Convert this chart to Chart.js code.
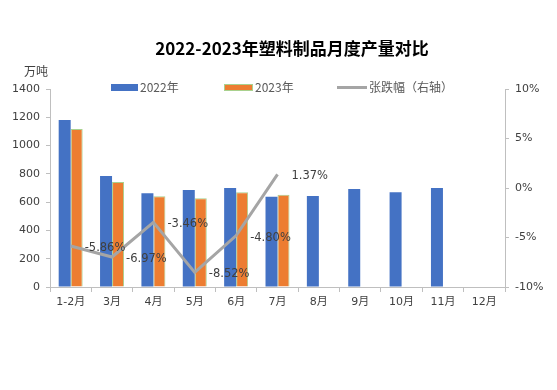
<!DOCTYPE html>
<html>
<head>
<meta charset="utf-8">
<script src="https://cdn.jsdelivr.net/npm/chart.js@4/dist/chart.umd.min.js"></script>
<style>
  body { margin: 0; background: #fff; }
  #wrap { width: 557px; height: 390px; }
</style>
</head>
<body>
<div id="wrap"><canvas id="c" width="557" height="390"></canvas></div>
<script>
// categories and series
const months = ['1-2月', '3月', '4月', '5月', '6月', '7月', '8月', '9月', '10月', '11月', '12月'];
const output2022 = [1181, 785, 662, 686, 700, 639, 643, 693, 670, 700, null];
const output2023 = [1117, 742, 642, 627, 670, 653, null, null, null, null, null];
const changePct = [-5.86, -6.97, -3.46, -8.52, -4.80, 1.37, null, null, null, null, null];

const FONT = '"DejaVu Sans", "Noto Sans CJK SC", sans-serif';
const TXT = '#404040';

// title, unit label, legend and line value labels
const decor = {
    id: 'decor',
    afterDatasetsDraw(chart) {
        const ctx = chart.ctx;
        ctx.save();
        ctx.fillStyle = '#000';
        ctx.font = 'bold 17px "Noto Sans CJK SC", sans-serif';
        ctx.textAlign = 'center';
        ctx.textBaseline = 'middle';
        ctx.fillText('2022-2023年塑料制品月度产量对比', 292, 49);

        ctx.font = '12px "Noto Sans CJK SC", sans-serif';
        ctx.fillStyle = TXT;
        ctx.fillText('万吨', 36, 71);

        // legend
        const ly = 87;
        ctx.textAlign = 'left';
        ctx.font = '12px "Noto Sans CJK SC", sans-serif';
        ctx.fillStyle = '#4472C4';
        ctx.fillRect(111, ly - 3, 27, 7);
        ctx.fillStyle = '#ED7D31';
        ctx.fillRect(224, ly - 3, 29, 7);
        ctx.strokeStyle = '#A9D18E';
        ctx.lineWidth = 1;
        ctx.strokeRect(224.5, ly - 2.5, 28, 6);
        ctx.strokeStyle = '#A5A5A5';
        ctx.lineWidth = 3;
        ctx.beginPath();
        ctx.moveTo(337, ly + 0.5);
        ctx.lineTo(367, ly + 0.5);
        ctx.stroke();
        ctx.fillStyle = '#595959';
        ctx.fillText('2022年', 140, ly);
        ctx.fillText('2023年', 255, ly);
        ctx.fillText('张跌幅（右轴）', 369, ly);

        // value labels on the line
        const meta = chart.getDatasetMeta(2);
        ctx.font = '11.5px ' + FONT;
        ctx.fillStyle = TXT;
        meta.data.forEach((pt, i) => {
            if (changePct[i] == null) return;
            ctx.fillText(changePct[i].toFixed(2) + '%', pt.x + 14, pt.y + 2);
        });
        ctx.restore();
    }
};

new Chart(document.getElementById('c'), {
    data: {
        labels: months,
        datasets: [
            {
                type: 'bar',
                label: '2022年',
                data: output2022,
                backgroundColor: '#4472C4',
                yAxisID: 'y',
                order: 2,
                categoryPercentage: 0.58,
                barPercentage: 1,
            },
            {
                type: 'bar',
                label: '2023年',
                data: output2023,
                backgroundColor: '#ED7D31',
                borderColor: '#A9D18E',
                borderWidth: 1,
                yAxisID: 'y',
                order: 2,
                categoryPercentage: 0.58,
                barPercentage: 1,
            },
            {
                type: 'line',
                label: '张跌幅（右轴）',
                data: changePct,
                borderColor: '#A5A5A5',
                borderWidth: 3,
                pointRadius: 0,
                tension: 0,
                yAxisID: 'y1',
                order: 1,
            },
        ],
    },
    options: {
        responsive: false,
        animation: false,
        layout: { padding: { top: 89, left: 0, right: 0, bottom: 78 } },
        plugins: { legend: { display: false }, tooltip: { enabled: false } },
        scales: {
            x: {
                offset: true,
                grid: { offset: true, drawOnChartArea: false, tickLength: 5, color: '#bfbfbf' },
                border: { color: '#bfbfbf' },
                ticks: { color: TXT, font: { family: FONT, size: 11 }, padding: 4, maxRotation: 0 },
                afterFit(axis) { axis.height = 25; },
            },
            y: {
                position: 'left',
                min: 0,
                max: 1400,
                grid: { drawOnChartArea: false, tickLength: 4, color: '#bfbfbf' },
                border: { color: '#bfbfbf' },
                ticks: {
                    stepSize: 200,
                    color: TXT,
                    font: { family: FONT, size: 11 },
                    padding: 6,
                    callback: v => String(v),
                },
                afterFit(axis) { axis.width = 50; },
            },
            y1: {
                position: 'right',
                min: -10,
                max: 10,
                grid: { drawOnChartArea: false, tickLength: 4, color: '#bfbfbf' },
                border: { color: '#bfbfbf' },
                ticks: {
                    stepSize: 5,
                    color: TXT,
                    font: { family: FONT, size: 11 },
                    padding: 6,
                    callback: v => v + '%',
                },
                afterFit(axis) { axis.width = 52; },
            },
        },
    },
    plugins: [decor],
});
</script>
</body>
</html>
